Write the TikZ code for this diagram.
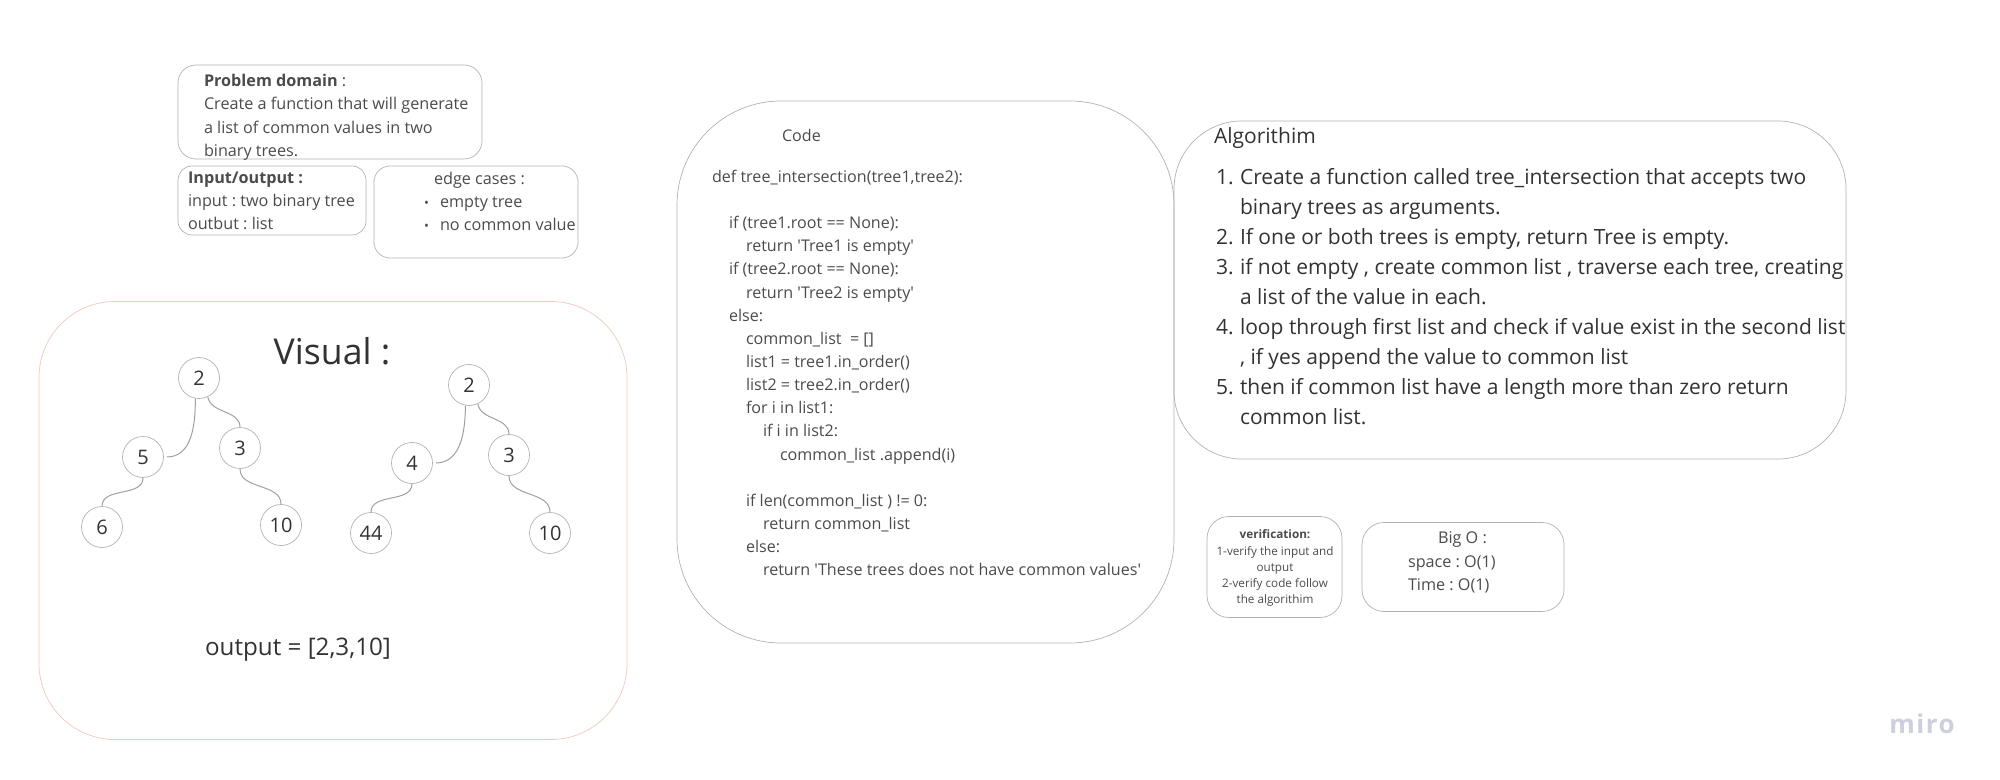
\documentclass[tikz,border=0pt]{standalone}
\usepackage{fontspec}
\setmainfont{Open Sans}
\usetikzlibrary{positioning,calc}
\usepackage{xcolor}
\definecolor{miroInk}{RGB}{50,50,50}
\definecolor{miroSoft}{RGB}{75,75,75}
\definecolor{miroBorder}{RGB}{178,178,178}
\definecolor{miroSalmon}{RGB}{238,200,188}
\definecolor{miroLink}{RGB}{160,160,160}
\definecolor{miroMark}{RGB}{205,207,220}
\newcommand{\pxfont}[2]{\fontsize{#1}{#2}\selectfont\frenchspacing}
\newcommand{\numline}[1]{\makebox[12pt][l]{#1.}}
\newcommand{\dotmark}{\llap{{\fontsize{6.5}{6.5}\selectfont\textbullet}\hspace{5.5pt}}}
\tikzset{
    panelBox/.style={draw=miroBorder, line width=0.35pt, inner sep=0pt, outer sep=0pt},
    panelText/.style={inner sep=0pt, outer sep=0pt, anchor=north west, align=left, text=miroSoft},
    treeNode/.style={circle, draw=miroBorder, line width=0.35pt, minimum size=20.5pt, inner sep=0pt,
        text=miroInk, font=\pxfont{10}{12}},
    treeLink/.style={draw=miroLink, line width=0.5pt}
}
\begin{document}
\begin{tikzpicture}[x=0.5pt,y=-0.5pt]
    \useasboundingbox (0,0) rectangle (2000,780);

    \node[panelBox, rounded corners=9pt, minimum width=152pt, minimum height=47pt] (problemBox) at (330,112) {};
    \node[panelBox, rounded corners=7pt, minimum width=94pt, minimum height=34.5pt] (inputBox) at (272,200.5) {};
    \node[panelBox, rounded corners=8pt, minimum width=102pt, minimum height=46pt] (edgeBox) at (476,212) {};
    \node[panelBox, draw=miroSalmon, rounded corners=38pt, minimum width=294pt, minimum height=219pt] (visualBox) at (333,520.5) {};
    \node[panelBox, rounded corners=52pt, minimum width=248.5pt, minimum height=271pt] (codeBox) at (925.5,372) {};
    \node[panelBox, rounded corners=34pt, minimum width=336pt, minimum height=169pt] (algoBox) at (1510,290) {};
    \node[panelBox, rounded corners=11pt, minimum width=67.5pt, minimum height=50.5pt] (verifyBox) at (1274.5,567) {};
    \node[panelBox, rounded corners=11pt, minimum width=101pt, minimum height=44.5pt] (bigOBox) at (1463,567) {};

    \node[panelText, font=\pxfont{8.1}{11.75}] (problemText) at (204,74)
    {\textbf{Problem domain} :\\
     Create a function that will generate\\
     a list of common values in two\\
     binary trees.};
    \node[panelText, font=\pxfont{8.1}{11.6}] (inputText) at (188,172)
    {\textbf{Input/output :}\\
     input : two binary tree\\
     outbut : list};
    \node[panelText, font=\pxfont{8.1}{11.6}] (edgeText) at (440,172)
    {\hspace*{-3pt}edge cases :\\
     \dotmark empty tree\\
     \dotmark no common value};

    \node[text=miroInk, inner sep=0pt, font=\pxfont{17.8}{22}] (visualTitle) at (332,351) {Visual :};
    \node[treeNode] (leftRoot) at (199,378) {2};
    \node[treeNode] (leftFive) at (143,457) {5};
    \node[treeNode] (leftThree) at (240,448) {3};
    \node[treeNode] (leftSix) at (102,527) {6};
    \node[treeNode] (leftTen) at (281,525) {10};
    \node[treeNode] (rightRoot) at (469,385) {2};
    \node[treeNode] (rightFour) at (412,463) {4};
    \node[treeNode] (rightThree) at (509,455) {3};
    \node[treeNode] (rightFortyFour) at (371,533) {44};
    \node[treeNode] (rightTen) at (550,533) {10};
    \node[text=miroInk, inner sep=0pt, font=\pxfont{12.1}{15}] (visualOutput) at (298,650) {output = [2,3,10]};

    \draw[treeLink] (leftRoot.260) to[out=-90, in=0] ($(leftFive.east)+(3,0)$);
    \draw[treeLink] (leftRoot.295) to[out=-80, in=90] (leftThree.north);
    \draw[treeLink] (leftFive.south) to[out=-90, in=90] (leftSix.north);
    \draw[treeLink] (leftThree.south) to[out=-90, in=90] (leftTen.north);
    \draw[treeLink] (rightRoot.260) to[out=-90, in=0] ($(rightFour.east)+(3,0)$);
    \draw[treeLink] (rightRoot.295) to[out=-80, in=90] (rightThree.north);
    \draw[treeLink] (rightFour.south) to[out=-90, in=90] (rightFortyFour.north);
    \draw[treeLink] (rightThree.south) to[out=-90, in=90] (rightTen.north);

    \node[panelText, font=\pxfont{8.05}{11.6}] (codeTitle) at (782,129) {Code};
    \node[panelText, font=\pxfont{8.05}{11.57}] (codeText) at (712,170)
    {def tree\_intersection(tree1,tree2):\\[11.57pt]
     \hspace*{8.5pt}if (tree1.root == None):\\
     \hspace*{17pt}return \textquotesingle Tree1 is empty\textquotesingle\\
     \hspace*{8.5pt}if (tree2.root == None):\\
     \hspace*{17pt}return \textquotesingle Tree2 is empty\textquotesingle\\
     \hspace*{8.5pt}else:\\
     \hspace*{17pt}common\_list \ = []\\
     \hspace*{17pt}list1 = tree1.in\_order()\\
     \hspace*{17pt}list2 = tree2.in\_order()\\
     \hspace*{17pt}for i in list1:\\
     \hspace*{25.5pt}if i in list2:\\
     \hspace*{34pt}common\_list .append(i)\\[11.57pt]
     \hspace*{17pt}if len(common\_list ) != 0:\\
     \hspace*{25.5pt}return common\_list\\
     \hspace*{17pt}else:\\
     \hspace*{25.5pt}return \textquotesingle These trees does not have common values\textquotesingle};

    \node[panelText, text=miroInk, font=\pxfont{10.5}{12}] (algoTitle) at (1214,128) {Algorithim};
    \node[panelText, text=miroInk, font=\pxfont{10.5}{15}] (algoText) at (1216,168)
    {\numline{1}Create a function called tree\_intersection that accepts two\\
     \hspace*{12pt}binary trees as arguments.\\
     \numline{2}If one or both trees is empty, return Tree is empty.\\
     \numline{3}if not empty , create common list , traverse each tree, creating\\
     \hspace*{12pt}a list of the value in each.\\
     \numline{4}loop through first list and check if value exist in the second list\\
     \hspace*{12pt}, if yes append the value to common list\\
     \numline{5}then if common list have a length more than zero return\\
     \hspace*{12pt}common list.};

    \node[panelText, anchor=north, align=center, font=\pxfont{5.85}{8.1}] (verifyText) at (1275,530)
    {\textbf{verification:}\\
     1-verify the input and\\
     output\\
     2-verify code follow\\
     the algorithim};
    \node[panelText, font=\pxfont{8.1}{11.6}] (bigOText) at (1408,532)
    {\hspace*{15pt}Big O :\\
     space : O(1)\\
     Time : O(1)};

    \node[text=miroMark, inner sep=0pt, font=\fontsize{13}{15}\selectfont\bfseries\addfontfeature{LetterSpace=6}] (miroMark) at (1922,724) {miro};
\end{tikzpicture}
\end{document}
